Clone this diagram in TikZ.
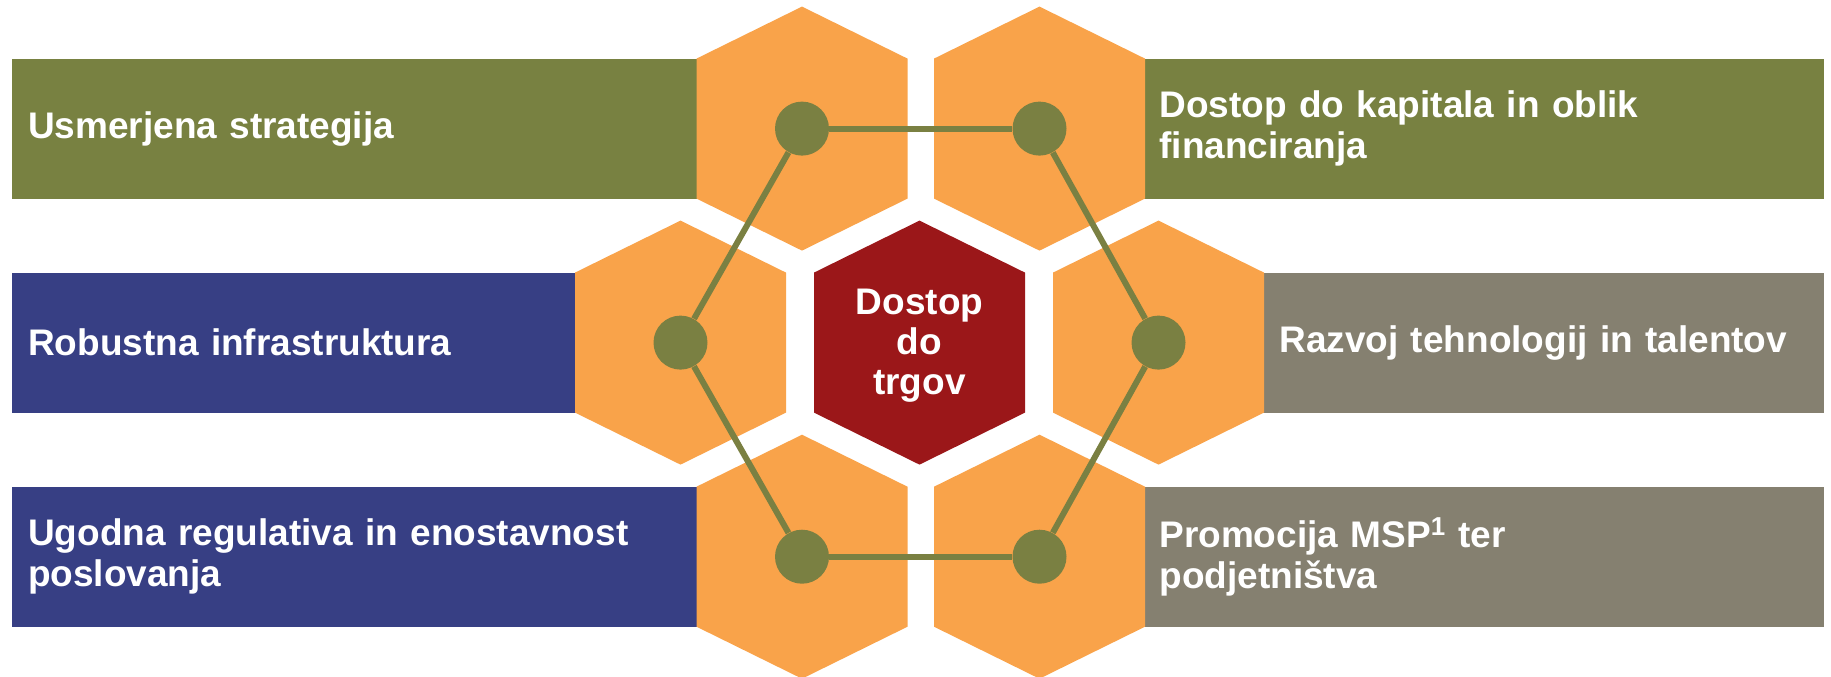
\documentclass[tikz,border=0pt]{standalone}
\usepackage{fontspec}
\setmainfont{Liberation Sans}
\definecolor{hexorange}{HTML}{F9A34A}
\definecolor{panelgreen}{HTML}{788141}
\definecolor{dotgreen}{HTML}{7A8042}
\definecolor{panelblue}{HTML}{373F84}
\definecolor{panelgray}{HTML}{858070}
\definecolor{hexred}{HTML}{9B1719}
\newcommand\hexagonat[3]{\fill[#3] ({#1-105.5},{#2-70}) -- (#1,{#2-122}) -- ({#1+105.5},{#2-70}) -- ({#1+105.5},{#2+70}) -- (#1,{#2+122}) -- ({#1-105.5},{#2+70}) -- cycle;}
\begin{document}
\begin{tikzpicture}[x=0.5pt,y=-0.5pt,
  panel/.style={anchor=north west, inner xsep=8pt, inner ysep=0pt, text=white,
    font=\bfseries\fontsize{18.5}{20.5}\selectfont, align=left, minimum height=69.75pt},
  centertext/.style={text=white, align=center, font=\bfseries\fontsize{18.5}{20}\selectfont},
  dot/.style={circle, fill=dotgreen, minimum size=27pt, inner sep=0pt},
  link/.style={draw=dotgreen, line width=3pt}]
\useasboundingbox (0,0) rectangle (1831,676);
\fill[white] (0,0) rectangle (1831,676);
% panels
\node[panel, fill=panelgreen, text width=327.65pt] (p1) at (11.7,58.6) {Usmerjena strategija};
\node[panel, fill=panelgreen, text width=324.5pt] (p2) at (1143,58.6) {Dostop do kapitala in oblik\\financiranja};
\node[panel, fill=panelblue, text width=268.65pt] (p3) at (11.7,272.6) {Robustna infrastruktura};
\node[panel, fill=panelgray, text width=264.5pt] (p4) at (1263,272.6) {Razvoj tehnologij in talentov};
\node[panel, fill=panelblue, text width=327.65pt] (p5) at (11.7,486.7) {Ugodna regulativa in enostavnost\\poslovanja};
\node[panel, fill=panelgray, text width=324.5pt] (p6) at (1143,486.7) {Promocija MSP\textsuperscript{1} ter\\podjetništva};
% hexagons
\hexagonat{802}{128.6}{hexorange}
\hexagonat{1039.5}{128.6}{hexorange}
\hexagonat{680.5}{342.6}{hexorange}
\hexagonat{919.5}{342.6}{hexred}
\hexagonat{1158.5}{342.6}{hexorange}
\hexagonat{802}{556.7}{hexorange}
\hexagonat{1039.5}{556.7}{hexorange}
\node[centertext] (c) at (919.5,346) {Dostop\\do\\trgov};
% dots
\node[dot] (d1) at (802,128.6) {};
\node[dot] (d2) at (1039.5,128.6) {};
\node[dot] (d3) at (1158.5,342.6) {};
\node[dot] (d4) at (1039.5,556.7) {};
\node[dot] (d5) at (802,556.7) {};
\node[dot] (d6) at (680.5,342.6) {};
% links
\draw[link] (d1) -- (d2);
\draw[link] (d2) -- (d3);
\draw[link] (d3) -- (d4);
\draw[link] (d4) -- (d5);
\draw[link] (d5) -- (d6);
\draw[link] (d6) -- (d1);
\end{tikzpicture}
\end{document}
